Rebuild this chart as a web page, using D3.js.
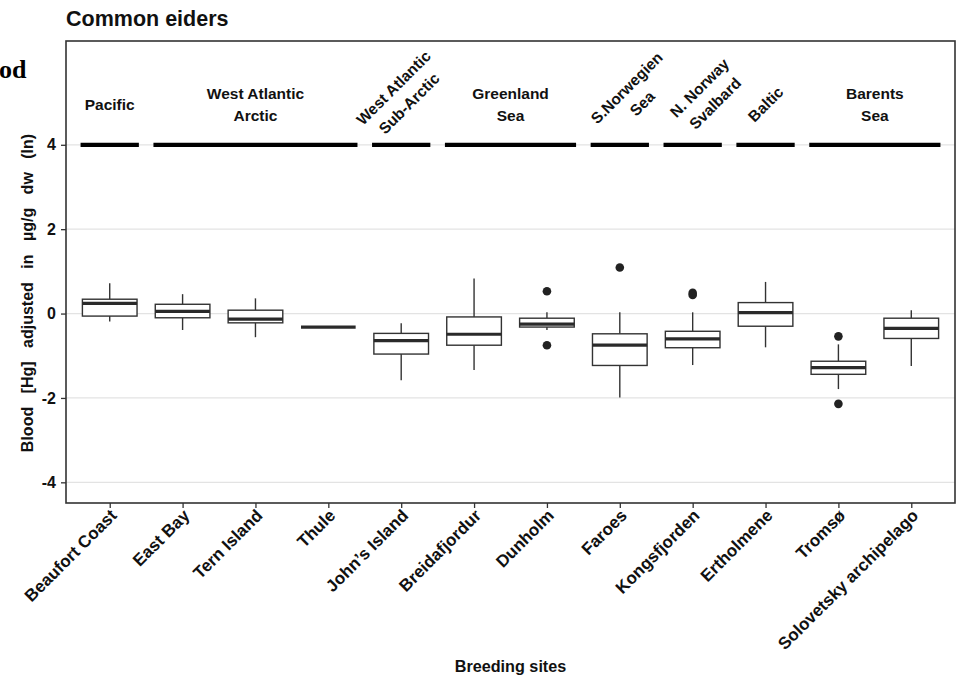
<!DOCTYPE html>
<html>
<head>
<meta charset="utf-8">
<script src="https://cdn.jsdelivr.net/npm/d3@7"></script>
<style>
  html, body { margin: 0; padding: 0; background: #fff; }
  svg { display: block; font-family: "Liberation Sans", Arial, Helvetica, sans-serif; }
</style>
</head>
<body>
<svg id="chart" width="960" height="678"></svg>
<script>
// ---------- data ----------
const sites = ["Beaufort Coast", "East Bay", "Tern Island", "Thule", "John\u2019s Island",
  "Breidafjordur", "Dunholm", "Faroes", "Kongsfjorden", "Ertholmene", "Troms\u00f8",
  "Solovetsky archipelago"];
const whiskerLow  = [-0.19, -0.39, -0.56, -0.32, -1.58, -1.34, -0.39, -1.99, -1.22, -0.80, -1.79, -1.24];
const q1          = [-0.06, -0.10, -0.22, -0.32, -0.96, -0.75, -0.32, -1.23, -0.81, -0.30, -1.44, -0.59];
const medians     = [ 0.24,  0.05, -0.13, -0.32, -0.64, -0.49, -0.25, -0.75, -0.60,  0.02, -1.28, -0.35];
const q3          = [ 0.34,  0.22,  0.08, -0.32, -0.47, -0.08, -0.11, -0.48, -0.42,  0.26, -1.13, -0.11];
const whiskerHigh = [ 0.72,  0.46,  0.36, -0.32, -0.23,  0.83,  0.03,  0.03,  0.03,  0.75, -0.73,  0.08];
const outliers = [[], [], [], [], [], [], [0.53, -0.75], [1.09], [0.49, 0.44], [], [-0.54, -2.14], []];

const regionNames  = [["Pacific"], ["West Atlantic", "Arctic"], ["West Atlantic", "Sub-Arctic"],
  ["Greenland", "Sea"], ["S.Norwegien", "Sea"], ["N. Norway", "Svalbard"], ["Baltic"], ["Barents", "Sea"]];
const regionFirst  = ["Beaufort Coast", "East Bay", "John\u2019s Island", "Breidafjordur", "Faroes", "Kongsfjorden", "Ertholmene", "Troms\u00f8"];
const regionLast   = ["Beaufort Coast", "Thule", "John\u2019s Island", "Dunholm", "Faroes", "Kongsfjorden", "Ertholmene", "Solovetsky archipelago"];
const regionAngled = [false, false, true, false, true, true, true, false];
const regionLabelShift = [0, 0, 0, 0, 0.2, 0.2, 0, 0]; // annotation x shift, in category units
const regionLineValue = 4;

const yTicks = [-4, -2, 0, 2, 4];
const yTickLabels = ["-4", "-2", "0", "2", "4"];
const titleText = "Common eiders";
const yTitleWords = ["Blood", "[Hg]", "adjusted", "in", "\u00b5g/g", "dw", "(ln)"];
const xTitleText = "Breeding sites";

// ---------- layout ----------
const svg = d3.select("#chart");
const P = { left: 66, right: 955, top: 41, bottom: 503 };
const ink = "#333333";

const x = d3.scalePoint().domain(sites).range([P.left, P.right]).padding(0.6);
const y = d3.scaleLinear().domain([-4.49, 6.46]).range([P.bottom, P.top]);
const step = x.step();
const boxW = step * 0.75;

// stray fragment from source figure
svg.append("text").attr("x", -1).attr("y", 78)
  .attr("font-family", "'Liberation Serif', 'Times New Roman', serif")
  .attr("font-weight", "bold").attr("font-size", 26).attr("fill", "#000").text("od");

// title
svg.append("text").attr("x", 66).attr("y", 26)
  .attr("font-weight", "bold").attr("font-size", 21.5).attr("fill", "#111").text(titleText);

// gridlines
svg.append("g").selectAll("line").data(yTicks).join("line")
  .attr("x1", P.left).attr("x2", P.right)
  .attr("y1", d => y(d)).attr("y2", d => y(d))
  .attr("stroke", "#e3e3e3").attr("stroke-width", 1.2);

// region lines
const regions = regionNames.map((n, i) => ({
  lines: n, x0: x(regionFirst[i]) - step * 0.4, x1: x(regionLast[i]) + step * 0.4,
  angled: regionAngled[i], shift: regionLabelShift[i]
}));
svg.append("g").selectAll("line").data(regions).join("line")
  .attr("x1", d => d.x0).attr("x2", d => d.x1)
  .attr("y1", y(regionLineValue)).attr("y2", y(regionLineValue))
  .attr("stroke", "#000").attr("stroke-width", 4.2);

// region labels
const fsR = 15.5, lhR = 22;
regions.forEach(r => {
  const cx = (r.x0 + r.x1) / 2 + r.shift * step;
  const cy = r.angled ? (r.lines.length > 1 ? 95.5 : 104) : 104;
  const g = svg.append("g").attr("transform", `translate(${cx},${cy})` + (r.angled ? " rotate(-45)" : ""));
  const n = r.lines.length;
  r.lines.forEach((t, k) => {
    const off = (k - (n - 1) / 2) * lhR + fsR * 0.36;
    g.append("text").attr("x", 0).attr("y", off).attr("text-anchor", "middle")
      .attr("font-weight", "bold").attr("font-size", fsR).attr("fill", "#111").text(t);
  });
});

// boxplots
const boxes = sites.map((s, i) => ({
  s, lo: whiskerLow[i], q1: q1[i], med: medians[i], q3: q3[i], hi: whiskerHigh[i], out: outliers[i]
}));
const bg = svg.append("g");
boxes.forEach(b => {
  const cx = x(b.s);
  bg.append("line").attr("x1", cx).attr("x2", cx).attr("y1", y(b.q3)).attr("y2", y(b.hi))
    .attr("stroke", ink).attr("stroke-width", 1.4);
  bg.append("line").attr("x1", cx).attr("x2", cx).attr("y1", y(b.q1)).attr("y2", y(b.lo))
    .attr("stroke", ink).attr("stroke-width", 1.4);
  bg.append("rect").attr("x", cx - boxW / 2).attr("width", boxW)
    .attr("y", y(b.q3)).attr("height", Math.max(0, y(b.q1) - y(b.q3)))
    .attr("fill", "#fff").attr("stroke", ink).attr("stroke-width", 1.4);
  bg.append("line").attr("x1", cx - boxW / 2).attr("x2", cx + boxW / 2)
    .attr("y1", y(b.med)).attr("y2", y(b.med))
    .attr("stroke", "#2a2a2a").attr("stroke-width", 3.2);
  b.out.forEach(o => {
    bg.append("circle").attr("cx", cx).attr("cy", y(o)).attr("r", 4.3).attr("fill", "#222");
  });
});

// panel border
svg.append("rect").attr("x", P.left).attr("y", P.top)
  .attr("width", P.right - P.left).attr("height", P.bottom - P.top)
  .attr("fill", "none").attr("stroke", ink).attr("stroke-width", 1.6);

// y axis
const yAxis = d3.axisLeft(y).tickValues(yTicks).tickSize(5).tickPadding(3)
  .tickFormat((d, i) => yTickLabels[i]);
const ya = svg.append("g").attr("transform", `translate(${P.left},0)`).call(yAxis);
ya.select(".domain").remove();
ya.selectAll(".tick line").attr("stroke", ink).attr("stroke-width", 1.3);
ya.selectAll(".tick text").attr("font-family", "'Liberation Sans', Arial, sans-serif")
  .attr("font-weight", "bold").attr("font-size", 16).attr("fill", "#111").attr("x", -10);

// x axis
const xAxis = d3.axisBottom(x).tickSize(5).tickPadding(3);
const xa = svg.append("g").attr("transform", `translate(0,${P.bottom})`).call(xAxis);
xa.select(".domain").remove();
xa.selectAll(".tick line").attr("stroke", ink).attr("stroke-width", 1.3);
xa.selectAll(".tick text")
  .attr("font-family", "'Liberation Sans', Arial, sans-serif")
  .attr("font-weight", "bold").attr("font-size", 17).attr("fill", "#111")
  .attr("text-anchor", "end").attr("dy", "0.71em").attr("y", 0)
  .attr("transform", "translate(-1,5) rotate(-45)");

// axis titles
svg.append("text").attr("transform", "translate(33,293) rotate(-90)")
  .attr("text-anchor", "middle").attr("font-weight", "bold").attr("font-size", 16)
  .attr("word-spacing", "9px").attr("fill", "#111").text(yTitleWords.join(" "));
svg.append("text").attr("x", (P.left + P.right) / 2).attr("y", 672)
  .attr("text-anchor", "middle").attr("font-weight", "bold").attr("font-size", 16.2)
  .attr("fill", "#111").text(xTitleText);
</script>
</body>
</html>
